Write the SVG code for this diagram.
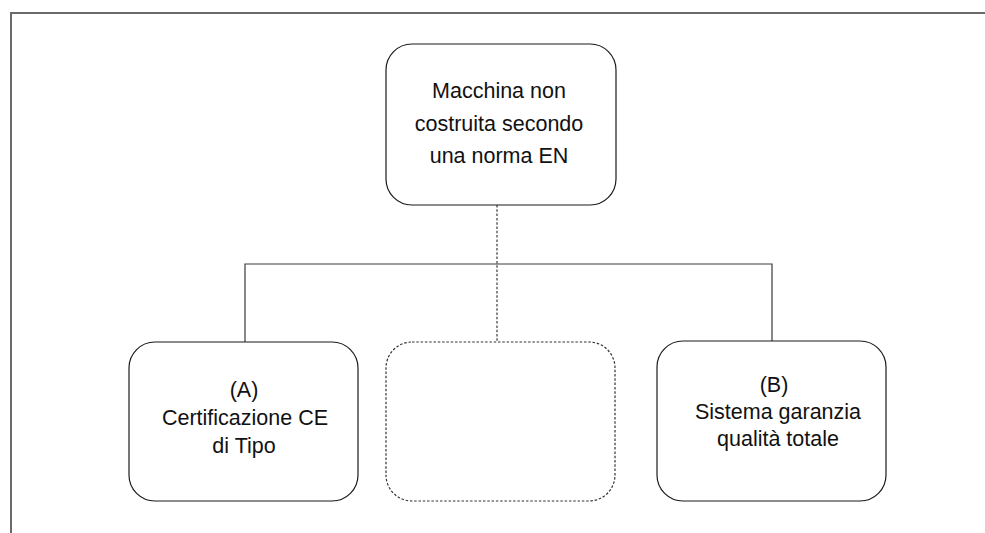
<svg xmlns="http://www.w3.org/2000/svg" width="985" height="533" viewBox="0 0 985 533">
<style>
.frame{fill:none;stroke:#6a6a6a;stroke-width:2}
.box{fill:#fff;stroke:#1a1a1a;stroke-width:1.2}
.dbox{fill:#fff;stroke:#333;stroke-width:1.2;stroke-dasharray:2.5 1.8}
.conn{fill:none;stroke:#3a3a3a;stroke-width:1.2}
.dconn{fill:none;stroke:#3a3a3a;stroke-width:1.2;stroke-dasharray:2.5 1.8}
text{font-family:"Liberation Sans",Arial,sans-serif;font-size:21.5px;fill:#111;text-anchor:middle}
</style>
<rect width="985" height="533" fill="#fff"/>
<path class="frame" d="M11,533 V13 H985"/>
<g id="connectors">
<path class="conn" d="M245,342 V264 H772 V341"/>
<path class="dconn" d="M497,205 V342"/>
</g>
<g id="top">
<rect class="box" x="386" y="44" width="230" height="161" rx="26"/>
<text x="499" y="98">Macchina non</text>
<text x="499" y="131">costruita secondo</text>
<text x="499" y="163">una norma EN</text>
</g>
<g id="nodeA">
<rect class="box" x="129" y="342" width="229" height="159" rx="26"/>
<text x="244" y="397">(A)</text>
<text x="245" y="425">Certificazione CE</text>
<text x="244" y="453">di Tipo</text>
</g>
<g id="nodeMid">
<rect class="dbox" x="386" y="342" width="229" height="159" rx="26"/>
</g>
<g id="nodeB">
<rect class="box" x="657" y="341" width="229" height="160" rx="26"/>
<text x="774" y="392">(B)</text>
<text x="778" y="419">Sistema garanzia</text>
<text x="778" y="446">qualità totale</text>
</g>
</svg>
